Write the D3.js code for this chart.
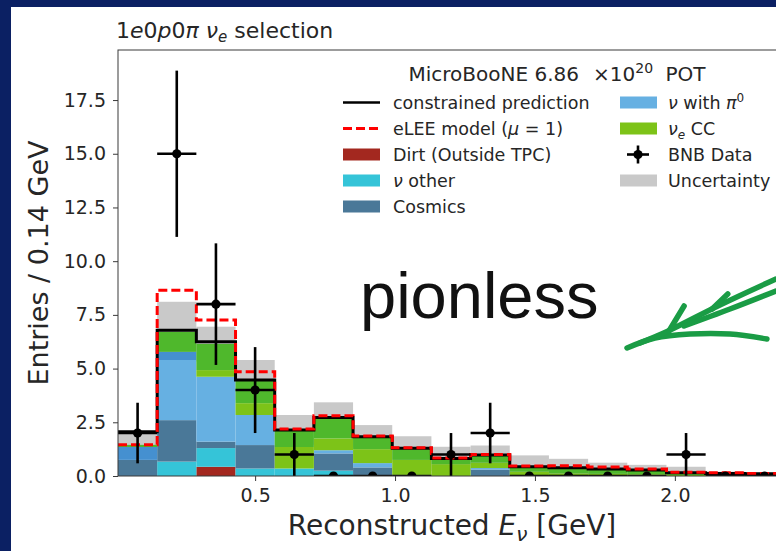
<!DOCTYPE html>
<html>
<head>
<meta charset="utf-8">
<script src="https://cdn.jsdelivr.net/npm/d3@7"></script>
<style>
  body { margin: 0; background: #0b2063; }
  svg { display: block; font-family: "DejaVu Sans", sans-serif; }
</style>
</head>
<body>
<svg id="chart" width="776" height="551"></svg>
<script>
// Reconstructed neutrino energy bins (GeV), 0.14 GeV wide
const binEdges = [0.01, 0.15, 0.29, 0.43, 0.57, 0.71, 0.85, 0.99, 1.13, 1.27,
                  1.41, 1.55, 1.69, 1.83, 1.97, 2.11, 2.25, 2.39];

// Stacked prediction components (entries per bin), bottom to top
const dirt      = [0, 0, 0.43, 0, 0, 0, 0, 0, 0, 0, 0, 0, 0, 0, 0, 0, 0];
const nuOther   = [0, 0.67, 0.87, 0.35, 0.35, 0.25, 0.05, 0, 0, 0, 0, 0, 0, 0, 0, 0, 0];
const cosmics   = [0.75, 1.93, 0.30, 1.09, 0, 0.80, 0.35, 0.05, 0, 0.30, 0, 0, 0, 0, 0, 0, 0];
const nuPi0     = [0, 2.80, 3.02, 1.40, 0, 0.15, 0.20, 0, 0, 0.07, 0, 0, 0, 0, 0, 0, 0];
const nuPi0Alt  = [0.60, 0.38, 0, 0, 0, 0, 0, 0, 0, 0, 0, 0, 0, 0, 0, 0, 0];
const nueCC     = [0, 0, 0.31, 0.55, 1.00, 0.55, 0.65, 0.70, 0.55, 0.25, 0.20, 0.12, 0.10, 0.08, 0.05, 0.03, 0.02];
const nueCCAlt  = [0.10, 0.93, 1.22, 1.08, 0.80, 0.95, 0.60, 0.50, 0.25, 0.33, 0.23, 0.24, 0.22, 0.18, 0.10, 0.07, 0.06];

// Uncertainty half-width around the stacked total
const uncertainty = [0.61, 1.40, 0.80, 0.93, 0.69, 0.73, 0.52, 0.60, 0.56, 0.47, 0.53, 0.44, 0.30, 0.26, 0.28, 0.10, 0.07];

// Constrained prediction and eLEE model (mu = 1)
const constrained = [2.06, 6.79, 6.25, 4.47, 2.14, 2.72, 1.83, 1.29, 0.82, 0.98, 0.43, 0.38, 0.33, 0.28, 0.15, 0.12, 0.10];
const eLEE        = [1.45, 8.65, 7.26, 4.85, 2.19, 2.80, 1.86, 1.31, 0.84, 1.00, 0.46, 0.48, 0.42, 0.33, 0.18, 0.15, 0.12];

// BNB data counts and statistical errors
const bnbData    = [2, 15, 8, 4, 1, 0, 0, 0, 1, 2, 0, 0, 0, 0, 1, 0, 0];
const bnbDataErr = [1.41, 3.87, 2.83, 2.00, 1.00, 0, 0, 0, 1.00, 1.41, 0, 0, 0, 0, 1.00, 0, 0];

const yTicks = [0, 2.5, 5, 7.5, 10, 12.5, 15, 17.5];
const xTicks = [0.5, 1.0, 1.5, 2.0];

// Hand-drawn arrow strokes, in axis units (GeV, entries)
const arrowStrokes = [
  [[1.829, 5.958], [1.929, 6.424], [2.054, 6.610], [2.197, 6.610], [2.329, 6.377]],
  [[2.361, 9.170], [2.161, 7.960], [1.976, 6.750], [1.875, 6.191]],
  [[2.361, 8.612], [2.197, 7.774], [2.033, 6.982]],
  [[2.033, 7.913], [1.979, 6.750]],
  [[2.189, 8.472], [2.133, 7.774]]
];

const colors = {
  dirt: "#a3281f",
  nuOther: "#35c4d8",
  cosmics: "#4a7898",
  nuPi0: "#66b0e2",
  nuPi0Alt: "#4590d0",
  nueCC: "#7dc318",
  nueCCAlt: "#4fb82c",
  unc: "#c9c9c9"
};

const svg = d3.select("#chart");
const W = 776, H = 551;

svg.append("rect").attr("x", 0).attr("y", 0).attr("width", W).attr("height", H).attr("fill", "#0b2063");
svg.append("rect").attr("x", 11).attr("y", 7).attr("width", W - 11).attr("height", H - 7).attr("fill", "#ffffff");

const plot = { left: 118, right: 784, top: 50, bottom: 476 };
const x = d3.scaleLinear().domain([0.01, 2.39]).range([plot.left, plot.right]);
const y = d3.scaleLinear().domain([0, 19.83]).range([plot.bottom, plot.top]);

svg.append("clipPath").attr("id", "plotclip")
  .append("rect").attr("x", plot.left).attr("y", plot.top)
  .attr("width", plot.right - plot.left).attr("height", plot.bottom - plot.top);

const g = svg.append("g").attr("clip-path", "url(#plotclip)");

const keys = ["dirt", "nuOther", "cosmics", "nuPi0", "nuPi0Alt", "nueCC", "nueCCAlt"];
const sources = { dirt, nuOther, cosmics, nuPi0, nuPi0Alt, nueCC, nueCCAlt };
const rows = binEdges.slice(0, -1).map((lo, i) => {
  const r = { lo, hi: binEdges[i + 1], i };
  keys.forEach(k => r[k] = sources[k][i]);
  return r;
});
const totals = rows.map(r => d3.sum(keys, k => r[k]));

// uncertainty band behind the stack
g.selectAll("rect.unc").data(rows).join("rect").attr("class", "unc")
  .attr("x", d => x(d.lo)).attr("width", d => x(d.hi) - x(d.lo))
  .attr("y", d => y(totals[d.i] + uncertainty[d.i]))
  .attr("height", d => y(Math.max(0, totals[d.i] - uncertainty[d.i])) - y(totals[d.i] + uncertainty[d.i]))
  .attr("fill", colors.unc);

// stacked components
const stacked = d3.stack().keys(keys)(rows);
stacked.forEach(layer => {
  g.selectAll(null).data(layer.filter(d => d[1] - d[0] > 0)).join("rect")
    .attr("x", d => x(d.data.lo)).attr("width", d => x(d.data.hi) - x(d.data.lo))
    .attr("y", d => y(d[1])).attr("height", d => y(d[0]) - y(d[1]))
    .attr("fill", colors[layer.key]);
});

// step outlines
function stepPoints(vals) {
  const pts = vals.map((v, i) => [binEdges[i], v]);
  pts.push([binEdges[binEdges.length - 1], vals[vals.length - 1]]);
  return pts;
}
const stepLine = d3.line().x(d => x(d[0])).y(d => y(d[1])).curve(d3.curveStepAfter);

g.append("path").attr("d", stepLine(stepPoints(constrained)))
  .attr("fill", "none").attr("stroke", "#000").attr("stroke-width", 3);
g.append("path").attr("d", stepLine(stepPoints(eLEE)))
  .attr("fill", "none").attr("stroke", "#ff0000").attr("stroke-width", 3)
  .attr("stroke-dasharray", "9,4");

// data points with error bars
const dg = g.append("g");
rows.forEach((r, i) => {
  const cx = x((r.lo + r.hi) / 2), v = bnbData[i], e = bnbDataErr[i];
  if (e > 0) {
    dg.append("line").attr("x1", cx).attr("x2", cx).attr("y1", y(v - e)).attr("y2", y(v + e))
      .attr("stroke", "#000").attr("stroke-width", 2.6);
  }
  dg.append("line").attr("x1", x(r.lo)).attr("x2", x(r.hi)).attr("y1", y(v)).attr("y2", y(v))
    .attr("stroke", "#000").attr("stroke-width", 2.6);
  dg.append("circle").attr("cx", cx).attr("cy", y(v)).attr("r", 4.6).attr("fill", "#000");
});

// frame
svg.append("rect").attr("x", plot.left).attr("y", plot.top)
  .attr("width", plot.right - plot.left).attr("height", plot.bottom - plot.top)
  .attr("fill", "none").attr("stroke", "#3a3a3a").attr("stroke-width", 1);

// axes
const yAxis = d3.axisLeft(y).tickValues(yTicks).tickFormat(d3.format(".1f"))
  .tickSize(5).tickSizeOuter(0).tickPadding(7);
const yg = svg.append("g").attr("transform", `translate(${plot.left},0)`).call(yAxis);
const xAxis = d3.axisBottom(x).tickValues(xTicks).tickFormat(d3.format(".1f"))
  .tickSize(5).tickSizeOuter(0).tickPadding(8);
const xg = svg.append("g").attr("transform", `translate(0,${plot.bottom})`).call(xAxis);
[yg, xg].forEach(a => {
  a.select(".domain").remove();
  a.attr("font-family", null).attr("font-size", null);
  a.selectAll(".tick line").attr("stroke", "#3a3a3a");
  a.selectAll(".tick text").style("font-size", "19px").attr("fill", "#262626")
    .style("font-family", "DejaVu Sans");
});

// axis titles
svg.append("text").attr("transform", "translate(48,263) rotate(-90)")
  .attr("text-anchor", "middle").style("font-size", "27px").attr("fill", "#262626")
  .text("Entries / 0.14 GeV");

const xl = svg.append("text").attr("x", 452).attr("y", 535).attr("text-anchor", "middle")
  .style("font-size", "28px").attr("fill", "#262626");
xl.append("tspan").text("Reconstructed ");
xl.append("tspan").attr("font-style", "italic").text("E");
xl.append("tspan").attr("font-style", "italic").style("font-size", "20px").attr("dy", 6).text("ν");
xl.append("tspan").attr("dy", -6).text(" [GeV]");

// panel title
const tt = svg.append("text").attr("x", 116).attr("y", 38).style("font-size", "22px").attr("fill", "#262626");
tt.append("tspan").text("1");
tt.append("tspan").attr("font-style", "italic").text("e");
tt.append("tspan").text("0");
tt.append("tspan").attr("font-style", "italic").text("p");
tt.append("tspan").text("0");
tt.append("tspan").attr("font-style", "italic").text("π ν");
tt.append("tspan").attr("font-style", "italic").style("font-size", "15px").attr("dy", 4).text("e");
tt.append("tspan").attr("dy", -4).text(" selection");

// big annotation
svg.append("text").attr("x", 360).attr("y", 318)
  .style("font-family", "'Liberation Sans', Arial, sans-serif")
  .style("font-size", "65px").attr("fill", "#111").text("pionless");

// hand-drawn arrow
const arrowLine = d3.line().x(d => x(d[0])).y(d => y(d[1])).curve(d3.curveCatmullRom);
arrowStrokes.forEach(s => {
  svg.append("path").attr("d", arrowLine(s)).attr("fill", "none")
    .attr("stroke", "#1a9c45").attr("stroke-width", 5.5)
    .attr("stroke-linecap", "round").attr("stroke-linejoin", "round");
});

// legend
const lg = svg.append("g");
const lt = lg.append("text").attr("x", 557).attr("y", 81).attr("text-anchor", "middle")
  .style("font-size", "20px").attr("fill", "#262626");
lt.append("tspan").text("MicroBooNE 6.86");
lt.append("tspan").attr("dx", 14).text("×10");
lt.append("tspan").style("font-size", "14px").attr("dy", -8).text("20");
lt.append("tspan").attr("dy", 8).attr("dx", 6).text(" POT");

const rowY = i => 102.5 + 26 * i;
function legendText(xp, i, parts) {
  const t = lg.append("text").attr("x", xp).attr("y", rowY(i) + 6).style("font-size", "17.5px").attr("fill", "#262626");
  parts.forEach(p => {
    const s = t.append("tspan").text(p.t);
    if (p.it) s.attr("font-style", "italic");
    if (p.fs) s.style("font-size", p.fs + "px");
    if (p.dy) s.attr("dy", p.dy);
  });
}
function patch(xp, i, col) {
  lg.append("rect").attr("x", xp).attr("y", rowY(i) - 6).attr("width", 37).attr("height", 12).attr("fill", col);
}
// column 1
lg.append("line").attr("x1", 343).attr("x2", 380).attr("y1", rowY(0)).attr("y2", rowY(0))
  .attr("stroke", "#000").attr("stroke-width", 2.6);
legendText(393, 0, [{ t: "constrained prediction" }]);
lg.append("line").attr("x1", 343).attr("x2", 380).attr("y1", rowY(1)).attr("y2", rowY(1))
  .attr("stroke", "#ff0000").attr("stroke-width", 3).attr("stroke-dasharray", "9,4");
legendText(393, 1, [{ t: "eLEE model (" }, { t: "μ", it: true }, { t: " = 1)" }]);
patch(343, 2, colors.dirt);
legendText(393, 2, [{ t: "Dirt (Outside TPC)" }]);
patch(343, 3, colors.nuOther);
legendText(393, 3, [{ t: "ν", it: true }, { t: " other" }]);
patch(343, 4, colors.cosmics);
legendText(393, 4, [{ t: "Cosmics" }]);
// column 2
patch(620, 0, colors.nuPi0);
legendText(668, 0, [{ t: "ν", it: true }, { t: " with " }, { t: "π", it: true }, { t: "0", fs: 12, dy: -7 }]);
patch(620, 1, colors.nueCC);
legendText(668, 1, [{ t: "ν", it: true }, { t: "e", it: true, fs: 12, dy: 4 }, { t: " CC", dy: -4 }]);
lg.append("line").attr("x1", 627).attr("x2", 649).attr("y1", rowY(2)).attr("y2", rowY(2))
  .attr("stroke", "#000").attr("stroke-width", 2.6);
lg.append("line").attr("x1", 638).attr("x2", 638).attr("y1", rowY(2) - 9).attr("y2", rowY(2) + 9)
  .attr("stroke", "#000").attr("stroke-width", 2.6);
lg.append("circle").attr("cx", 638).attr("cy", rowY(2)).attr("r", 4.6).attr("fill", "#000");
legendText(668, 2, [{ t: "BNB Data" }]);
patch(620, 3, colors.unc);
legendText(668, 3, [{ t: "Uncertainty" }]);
</script>
</body>
</html>
